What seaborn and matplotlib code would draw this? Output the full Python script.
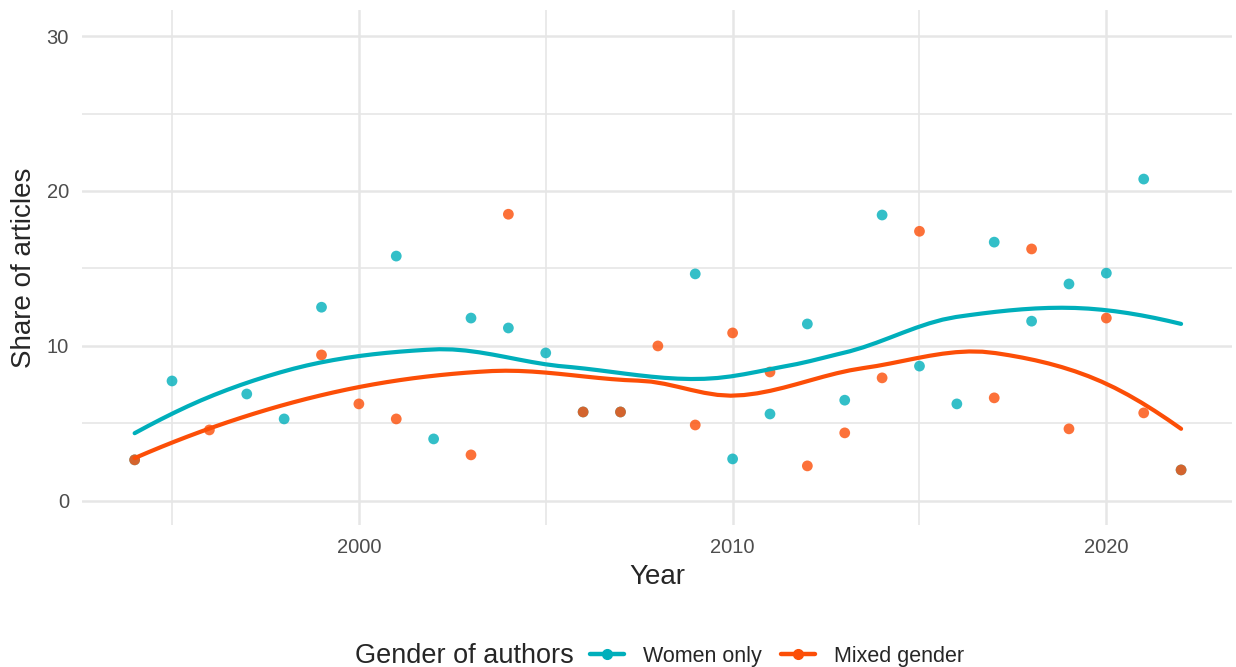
import numpy as np
import pandas as pd
import seaborn as sns
import matplotlib.pyplot as plt
from matplotlib.lines import Line2D
from matplotlib.ticker import MultipleLocator

# values
women_years = [1994, 1995, 1997, 1998, 1999, 2001, 2002, 2003, 2004, 2005, 2006, 2007,
               2009, 2010, 2011, 2012, 2013, 2014, 2015, 2016, 2017, 2018, 2019, 2020,
               2021, 2022]
women_share = [2.65, 7.74, 6.9, 5.29, 12.5, 15.8, 4.0, 11.8, 11.16, 9.55, 5.74, 5.74,
               14.65, 2.71, 5.61, 11.42, 6.5, 18.45, 8.7, 6.26, 16.7, 11.6, 14.0, 14.7,
               20.77, 2.0]

mixed_years = [1994, 1996, 1999, 2000, 2001, 2003, 2004, 2006, 2007, 2008, 2009, 2010,
               2011, 2012, 2013, 2014, 2015, 2017, 2018, 2019, 2020, 2021, 2022]
mixed_share = [2.65, 4.58, 9.42, 6.26, 5.29, 2.97, 18.5, 5.74, 5.74, 10.0, 4.9, 10.84,
               8.32, 2.26, 4.39, 7.94, 17.4, 6.65, 16.26, 4.65, 11.8, 5.68, 2.0]

groups = ["Women only", "Mixed gender"]
colors = {"Women only": "#00AFBB", "Mixed gender": "#FC4E07"}


def local_fit(x, y, x0, q):
    # local quadratic fit with tricube weights, returns value and slope at x0
    d = np.abs(x - x0)
    h = np.sort(d)[q - 1]
    w = np.clip(1 - (d / h) ** 3, 0, None) ** 3
    X = np.column_stack([np.ones(len(x)), x - x0, (x - x0) ** 2])
    W = np.sqrt(w)
    beta = np.linalg.lstsq(X * W[:, None], y * W, rcond=None)[0]
    return beta[0], beta[1]


def loess(x, y, xs, span=0.75):
    # roughly R's loess: fit at kd-tree vertices, then cubic hermite interpolation
    x = np.asarray(x, float)
    y = np.asarray(y, float)
    n = len(x)
    q = int(np.floor(n * span))
    fc = int(np.floor(n * span * 0.2))
    verts = {x.min(), x.max()}

    def split(p):
        if len(p) <= fc:
            return
        m = np.median(p)
        verts.add(m)
        left, right = p[p <= m], p[p > m]
        if len(left) == len(p) or len(right) == len(p):
            return
        split(left)
        split(right)

    split(np.sort(x))
    v = np.array(sorted(verts))
    fits = np.array([local_fit(x, y, vi, q) for vi in v])
    out = []
    for x0 in xs:
        i = min(np.searchsorted(v, x0, side="right") - 1, len(v) - 2)
        a, b = v[i], v[i + 1]
        h = b - a
        t = (x0 - a) / h
        h00 = 2 * t**3 - 3 * t**2 + 1
        h10 = t**3 - 2 * t**2 + t
        h01 = -2 * t**3 + 3 * t**2
        h11 = t**3 - t**2
        out.append(h00 * fits[i, 0] + h10 * h * fits[i, 1] + h01 * fits[i + 1, 0] + h11 * h * fits[i + 1, 1])
    return np.array(out)


pts = pd.concat([
    pd.DataFrame({"Year": women_years, "Share": women_share, "Gender": "Women only"}),
    pd.DataFrame({"Year": mixed_years, "Share": mixed_share, "Gender": "Mixed gender"}),
])

smooth = []
for g in groups:
    sub = pts[pts.Gender == g]
    xs = np.linspace(sub.Year.min(), sub.Year.max(), 80)
    smooth.append(pd.DataFrame({"Year": xs, "Share": loess(sub.Year, sub.Share, xs), "Gender": g}))
smooth = pd.concat(smooth)

sns.set_theme(style="white")
plt.rcParams['font.family'] = ['Liberation Sans', 'DejaVu Sans']

fig, ax = plt.subplots(figsize=(12.36, 6.67), dpi=100)
fig.subplots_adjust(left=0.066, right=0.997, bottom=0.213, top=0.985)

sns.scatterplot(data=pts, x="Year", y="Share", hue="Gender", hue_order=groups,
                palette=colors, s=60, alpha=0.8, linewidth=0, ax=ax, legend=False, zorder=3)
sns.lineplot(data=smooth, x="Year", y="Share", hue="Gender", hue_order=groups,
             palette=colors, linewidth=3, ax=ax, legend=False, zorder=4)

ax.set_xlim(1992.58, 2023.37)
ax.set_ylim(-1.55, 31.68)
ax.xaxis.set_major_locator(MultipleLocator(10))
ax.xaxis.set_minor_locator(MultipleLocator(5))
ax.yaxis.set_major_locator(MultipleLocator(10))
ax.yaxis.set_minor_locator(MultipleLocator(5))
ax.grid(which="major", color="#E6E6E6", linewidth=1.8)
ax.grid(which="minor", color="#E6E6E6", linewidth=1.2)
ax.set_axisbelow(True)
for s in ax.spines.values():
    s.set_visible(False)
ax.tick_params(which="both", length=0, labelsize=14.5, labelcolor="#4D4D4D")
ax.tick_params(axis="x", pad=9.5)
ax.tick_params(axis="y", pad=9)
ax.set_xlabel("Year", fontsize=20, labelpad=5)
ax.set_ylabel("Share of articles", fontsize=20, labelpad=7)

handles = [Line2D([], [], color=colors[g], linewidth=3.2, marker="o", markersize=7) for g in groups]
fig.text(0.287, 0.016, "Gender of authors", fontsize=19.5, ha="left", va="center")
fig.legend(handles, groups, loc="center left", bbox_to_anchor=(0.477, 0.016), ncol=2,
           frameon=False, fontsize=15.5, handlelength=1.6, columnspacing=0.88,
           handletextpad=0.88, borderaxespad=0, borderpad=0)

fig.savefig("out.png", dpi=100)
